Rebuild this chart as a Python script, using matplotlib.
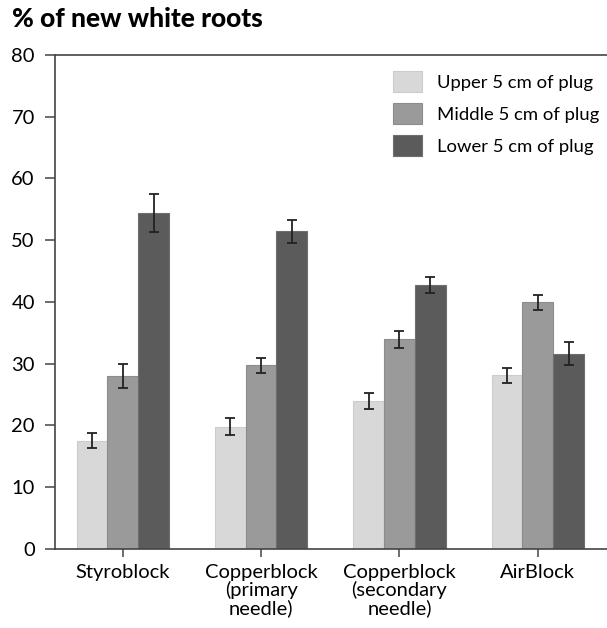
import matplotlib
matplotlib.use('Agg')
import numpy as np
import matplotlib.pyplot as plt

plt.rcParams['font.family'] = ['Lato', 'DejaVu Sans']

# --- Datos ---
categorias = ['Styroblock', 'Copperblock\n(primary\nneedle)', 'Copperblock\n(secondary\nneedle)', 'AirBlock']
series = ['Upper 5 cm of plug', 'Middle 5 cm of plug', 'Lower 5 cm of plug']
upper = [17.5, 19.8, 23.9, 28.1]
upper_err = [1.25, 1.3, 1.3, 1.25]
middle = [28.0, 29.7, 33.9, 39.9]
middle_err = [1.95, 1.25, 1.35, 1.25]
lower = [54.4, 51.4, 42.7, 31.6]
lower_err = [3.15, 1.9, 1.25, 1.9]
colores = ['#d8d8d8', '#9a9a9a', '#5b5b5b']
bordes = ['#cccccc', '#8c8c8c', '#6e6e6e']

valores = [upper, middle, lower]
errores = [upper_err, middle_err, lower_err]

fig = plt.figure(figsize=(6.07, 6.28), dpi=100)
ax = fig.add_axes([55/607, 1 - 548.7/628, 1 - 55/607, (548.7 - 55)/628])

x = np.arange(len(categorias))
ancho = 0.222
for i in range(3):
    pos = x + (i - 1) * ancho
    ax.bar(pos, valores[i], width=ancho, color=colores[i], edgecolor=bordes[i],
           linewidth=0.8, label=series[i], zorder=2)
    ax.errorbar(pos, valores[i], yerr=errores[i], fmt='none', ecolor='#222222',
                elinewidth=1.3, capsize=3.9, capthick=1.3, zorder=3)

ax.set_xlim(-0.49, 3.5)
ax.set_ylim(0, 80)
ax.set_yticks(range(0, 81, 10))
ax.set_xticks(x)
ax.set_xticklabels(categorias, fontsize=14.5, linespacing=1.02)

for s in ['left', 'top', 'bottom']:
    ax.spines[s].set_color('#444444')
    ax.spines[s].set_linewidth(1.2)
ax.spines['right'].set_visible(False)

ax.tick_params(axis='y', length=7.5, width=1.1, color='#444444', labelsize=14.5, pad=7)
ax.tick_params(axis='x', length=6, width=1.1, color='#444444', labelsize=14.5, pad=5)

# --- Leyenda ---
leg = ax.legend(loc='upper left', bbox_to_anchor=(393/607, 1 - 71/628),
                bbox_transform=fig.transFigure, frameon=False, fontsize=13.3,
                handlelength=1.57, handleheight=1.35, handletextpad=0.8,
                labelspacing=0.62, borderpad=0, borderaxespad=0)

# --- Título ---
fig.text(12/607, 1 - 19/628, '% of new white roots', fontsize=19, fontweight='black',
         ha='left', va='center')

fig.savefig('out.png', dpi=100)
